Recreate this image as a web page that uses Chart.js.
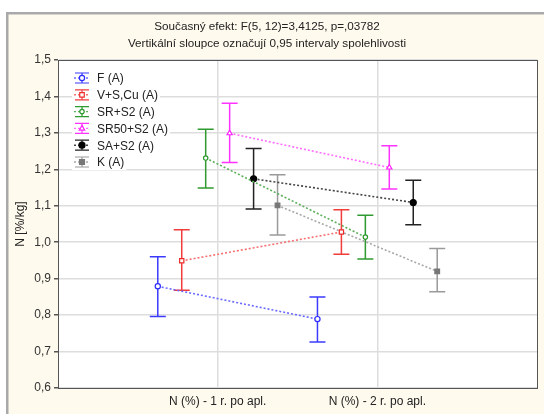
<!DOCTYPE html>
<html>
<head>
<meta charset="utf-8">
<script src="https://cdn.jsdelivr.net/npm/chart.js@4.4.1/dist/chart.umd.min.js"></script>
<style>
  html, body { margin: 0; padding: 0; background: #ffffff; }
  canvas { display: block; }
</style>
</head>
<body>
<canvas id="chart" width="544" height="414"></canvas>
<script>
// Categories (measurement times) and series
const categories = ['N (%) - 1 r. po apl.', 'N (%) - 2 r. po apl.'];
const seriesNames = ['F (A)', 'V+S,Cu (A)', 'SR+S2 (A)', 'SR50+S2 (A)', 'SA+S2 (A)', 'K (A)'];
const titleLines = [
  'Současný efekt: F(5, 12)=3,4125, p=,03782',
  'Vertikální sloupce označují 0,95 intervaly spolehlivosti'
];
const yAxisTitle = 'N [%/kg]';

// Means and 0.95 confidence limits per series
const meanF     = [0.879, 0.789];
const lowF      = [0.796, 0.726];
const highF     = [0.960, 0.850];

const meanV     = [0.949, 1.028];
const lowV      = [0.868, 0.967];
const highV     = [1.034, 1.089];

const meanSR    = [1.231, 1.014];
const lowSR     = [1.149, 0.954];
const highSR    = [1.310, 1.074];

const meanSR50  = [1.299, 1.205];
const lowSR50   = [1.219, 1.146];
const highSR50  = [1.381, 1.265];

const meanSA    = [1.174, 1.109];
const lowSA     = [1.091, 1.048];
const highSA    = [1.257, 1.170];

const meanK     = [1.101, 0.920];
const lowK      = [1.020, 0.864];
const highK     = [1.185, 0.983];

const yMin = 0.6, yMax = 1.5, yStep = 0.1;

const means = [meanF, meanV, meanSR, meanSR50, meanSA, meanK];
const lows  = [lowF, lowV, lowSR, lowSR50, lowSA, lowK];
const highs = [highF, highV, highSR, highSR50, highSA, highK];

// Visual style for each series
const styles = [
  { bar: '#3b3bff', line: '#6a6aff', point: 'circle',   fill: '#ffffff', r: 2.6 },
  { bar: '#f23c3c', line: '#f57070', point: 'rect',     fill: '#ffffff', r: 3.0 },
  { bar: '#2f9a2f', line: '#5cb05c', point: 'circle',   fill: '#ffffff', r: 2.2 },
  { bar: '#ff33ff', line: '#ff6cff', point: 'triangle', fill: '#ffffff', r: 3.0 },
  { bar: '#222222', line: '#444444', point: 'circle',   fill: '#000000', r: 3.0 },
  { bar: '#9a9a9a', line: '#a8a8a8', point: 'rect',     fill: '#777777', r: 3.3 }
];
const pointBorder = ['#2a2aff', '#ee2a2a', '#2a9a2a', '#ff22ff', '#000000', '#777777'];

const FONT = "'Liberation Sans', Arial, sans-serif";

// Spread series horizontally around each category position
function offsetOf(i) { return (i - (seriesNames.length - 1) / 2) * 0.15; }

const datasets = seriesNames.map((name, s) => ({
  label: name,
  data: means[s].map((v, c) => ({ x: c + 1 + offsetOf(s), y: v })),
  errLow: lows[s],
  errHigh: highs[s],
  borderColor: styles[s].line,
  borderWidth: 1.6,
  borderDash: [2, 2],
  pointStyle: styles[s].point,
  pointRadius: styles[s].r,
  pointBorderWidth: 1.2,
  pointBorderColor: pointBorder[s],
  pointBackgroundColor: styles[s].fill,
  showLine: true,
  fill: false,
  tension: 0
}));

// Page frame, plot background and titles
const framePlugin = {
  id: 'frame',
  beforeDraw(chart) {
    const ctx = chart.ctx, W = chart.width, H = chart.height, a = chart.chartArea;
    ctx.save();
    ctx.fillStyle = '#ffffff';
    ctx.fillRect(0, 0, W, H);
    ctx.fillStyle = '#fffaee';
    ctx.fillRect(6, 12, W - 6, H - 12);
    ctx.fillStyle = '#a9a9a9';
    ctx.fillRect(6, 12, W - 6, 2.5);
    ctx.fillRect(6, 12, 2.5, H - 12);
    ctx.fillStyle = '#ffffff';
    ctx.fillRect(a.left, a.top, a.right - a.left, a.bottom - a.top);
    ctx.fillStyle = '#222222';
    ctx.font = '11.7px ' + FONT;
    ctx.textAlign = 'center';
    ctx.textBaseline = 'middle';
    ctx.fillText(titleLines[0], 267, 27);
    ctx.fillText(titleLines[1], 267, 44);
    ctx.restore();
  },
  afterDraw(chart) {
    const ctx = chart.ctx, a = chart.chartArea;
    ctx.save();
    ctx.strokeStyle = '#555555';
    ctx.lineWidth = 1;
    ctx.strokeRect(Math.round(a.left) + 0.5, Math.round(a.top) + 0.5,
                   Math.round(a.right - a.left), Math.round(a.bottom - a.top));
    ctx.restore();
  }
};

// Vertical confidence-interval bars with caps
const errorBarPlugin = {
  id: 'errorBars',
  beforeDatasetsDraw(chart) {
    const ctx = chart.ctx, xs = chart.scales.x, ys = chart.scales.y;
    ctx.save();
    chart.data.datasets.forEach((ds, s) => {
      ds.data.forEach((p, c) => {
        const x = xs.getPixelForValue(p.x);
        const y1 = ys.getPixelForValue(ds.errLow[c]);
        const y2 = ys.getPixelForValue(ds.errHigh[c]);
        ctx.strokeStyle = styles[s].bar;
        ctx.lineWidth = 1.5;
        ctx.beginPath();
        ctx.moveTo(x, y1); ctx.lineTo(x, y2);
        ctx.moveTo(x - 8, y1); ctx.lineTo(x + 8, y1);
        ctx.moveTo(x - 8, y2); ctx.lineTo(x + 8, y2);
        ctx.stroke();
      });
    });
    ctx.restore();
  }
};

function drawMarker(ctx, s, x, y) {
  const st = styles[s], r = st.r;
  ctx.fillStyle = st.fill;
  ctx.strokeStyle = pointBorder[s];
  ctx.lineWidth = 1.2;
  ctx.beginPath();
  if (st.point === 'circle') {
    ctx.arc(x, y, r, 0, Math.PI * 2);
  } else if (st.point === 'rect') {
    ctx.rect(x - r * 0.75, y - r * 0.75, r * 1.5, r * 1.5);
  } else {
    ctx.moveTo(x, y - r);
    ctx.lineTo(x + r * 0.9, y + r * 0.6);
    ctx.lineTo(x - r * 0.9, y + r * 0.6);
    ctx.closePath();
  }
  ctx.fill();
  ctx.stroke();
}

// Legend placed inside the top-left of the plot
const legendPlugin = {
  id: 'insideLegend',
  afterDraw(chart) {
    const ctx = chart.ctx;
    const x0 = 74, cx = 82, tx = 97, y0 = 78, dy = 16.8;
    ctx.save();
    ctx.font = '12px ' + FONT;
    ctx.textBaseline = 'middle';
    ctx.textAlign = 'left';
    chart.data.datasets.forEach((ds, s) => {
      const y = y0 + s * dy;
      const tw = ctx.measureText(ds.label).width;
      ctx.fillStyle = '#ffffff';
      ctx.fillRect(x0 - 2, y - 8, tx - x0 + tw + 4, 16);
      // dotted line
      ctx.strokeStyle = styles[s].line;
      ctx.lineWidth = 1.4;
      ctx.setLineDash([2, 2]);
      ctx.beginPath();
      ctx.moveTo(x0, y); ctx.lineTo(x0 + 16, y);
      ctx.stroke();
      ctx.setLineDash([]);
      // error bar symbol
      ctx.strokeStyle = styles[s].bar;
      ctx.lineWidth = 1.2;
      ctx.beginPath();
      ctx.moveTo(cx, y - 5); ctx.lineTo(cx, y + 5);
      ctx.moveTo(x0 + 1, y - 5); ctx.lineTo(x0 + 15, y - 5);
      ctx.moveTo(x0 + 1, y + 5); ctx.lineTo(x0 + 15, y + 5);
      ctx.stroke();
      drawMarker(ctx, s, cx, y);
      ctx.fillStyle = '#222222';
      ctx.fillText(ds.label, tx, y + 1);
    });
    ctx.restore();
  }
};

new Chart(document.getElementById('chart'), {
  type: 'line',
  data: { datasets },
  plugins: [framePlugin, errorBarPlugin, legendPlugin],
  options: {
    responsive: false,
    animation: false,
    devicePixelRatio: 1,
    layout: { padding: { top: 60, right: 7, left: 0, bottom: 0 } },
    plugins: {
      legend: { display: false },
      title: { display: false },
      tooltip: { enabled: false }
    },
    scales: {
      x: {
        type: 'linear',
        min: 0,
        max: categories.length + 1,
        afterBuildTicks(scale) {
          scale.ticks = categories.map((c, i) => ({ value: i + 1 }));
        },
        afterFit(scale) { scale.height = 26; },
        ticks: {
          callback: (v) => categories[Math.round(v) - 1] || '',
          color: '#222222',
          font: { family: FONT, size: 12 },
          padding: 6,
          maxRotation: 0
        },
        grid: { color: '#dddddd', lineWidth: 1.5, drawTicks: false },
        border: { color: '#555555', width: 1 }
      },
      y: {
        min: yMin,
        max: yMax,
        afterFit(scale) { scale.width = 58; },
        ticks: {
          stepSize: yStep,
          callback: (v) => Number(v).toFixed(1).replace('.', ','),
          color: '#333333',
          font: { family: FONT, size: 12 },
          padding: 3
        },
        grid: { color: '#dddddd', lineWidth: 1.5, tickLength: 4, tickColor: '#555555' },
        border: { color: '#555555', width: 1 },
        title: {
          display: true,
          text: yAxisTitle,
          color: '#222222',
          font: { family: FONT, size: 12 },
          padding: { top: 13, bottom: 0 }
        }
      }
    }
  }
});
</script>
</body>
</html>
